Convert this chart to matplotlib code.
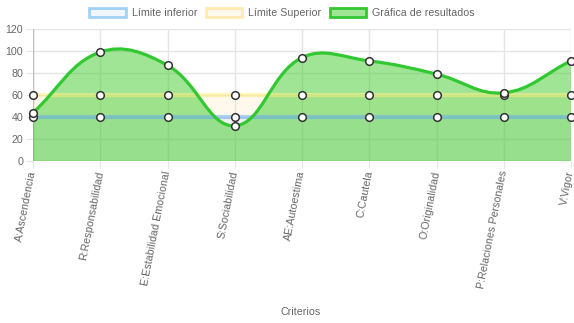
import numpy as np
import matplotlib
matplotlib.use("Agg")
import matplotlib.pyplot as plt
from matplotlib.path import Path
from matplotlib.patches import PathPatch, Patch

categories = ["A:Ascendencia", "R:Responsabilidad", "E:Estabilidad Emocional",
              "S:Sociabilidad", "AE:Autoestima", "C:Cautela", "O:Originalidad",
              "P:Relaciones Personales", "V:Vigor"]
limite_inferior = [40, 40, 40, 40, 40, 40, 40, 40, 40]
limite_superior = [60, 60, 60, 60, 60, 60, 60, 60, 60]
resultados = [44, 99, 87, 32, 94, 91, 79, 62, 91]
yticks = [0, 20, 40, 60, 80, 100, 120]

plt.rcParams['font.family'] = ['Liberation Sans', 'DejaVu Sans']
TXT = '#666666'
FS = 7.7

fig = plt.figure(figsize=(5.74, 3.23), dpi=100)
ax = fig.add_axes([33/574, 162/323, 538/574, 132/323])
n = len(categories)
x = np.arange(n)
ax.set_xlim(0, n - 1)
ax.set_ylim(0, 120)

for s in ax.spines.values():
    s.set_visible(False)
ax.set_axisbelow(True)
ax.set_yticks(yticks)
ax.set_xticks(x)
ax.grid(True, color='#e5e5e5', linewidth=1, alpha=1)
ax.tick_params(axis='both', length=5, color='#e5e5e5', labelcolor=TXT, labelsize=FS, pad=2)
ax.set_yticklabels([str(v) for v in yticks])
ax.set_xticklabels(categories, rotation=79, ha='right', va='center', rotation_mode='anchor')
ax.axhline(0, color='#c0c0c0', lw=1, zorder=1)
ax.axvline(0, color='#c0c0c0', lw=1, zorder=1)
fig.text(301/574, 1 - 312/323, "Criterios", color=TXT, fontsize=FS, ha='center', va='center')

blue_line = (100/255, 170/255, 250/255, 0.5)
blue_fill = (54/255, 162/255, 235/255, 0.08)
yel_line = (255/255, 240/255, 130/255, 0.55)
yel_fill = (255/255, 205/255, 86/255, 0.1)
ax.fill_between(x, limite_superior, 0, color=yel_fill, lw=0, zorder=2)
ax.fill_between(x, limite_inferior, 0, color=blue_fill, lw=0, zorder=2)

# Chart.js-style tension spline for results
fig.canvas.draw()
pts = ax.transData.transform(np.column_stack([x, resultados]))
t = 0.4
verts = [tuple(pts[0])]
codes = [Path.MOVETO]
ctrl = []
for i in range(n):
    prev = pts[i - 1] if i > 0 else pts[i]
    cur = pts[i]
    nxt = pts[i + 1] if i < n - 1 else pts[i]
    d01 = np.hypot(*(cur - prev))
    d12 = np.hypot(*(nxt - cur))
    tot = d01 + d12
    s01 = d01 / tot if tot else 0
    s12 = d12 / tot if tot else 0
    ctrl.append((cur - t * s01 * (nxt - prev), cur + t * s12 * (nxt - prev)))
for i in range(n - 1):
    verts += [tuple(ctrl[i][1]), tuple(ctrl[i + 1][0]), tuple(pts[i + 1])]
    codes += [Path.CURVE4] * 3
inv = ax.transData.inverted()
dverts = inv.transform(np.array(verts))
curve = Path(dverts, codes)
fill_verts = list(map(tuple, dverts)) + [(x[-1], 0), (x[0], 0), (x[0], resultados[0])]
fill_codes = codes + [Path.LINETO, Path.LINETO, Path.CLOSEPOLY]
green_line = (50/255, 200/255, 50/255)
green_fill = (65/255, 205/255, 45/255, 0.5)
ax.add_patch(PathPatch(Path(fill_verts, fill_codes), facecolor=green_fill, edgecolor='none', zorder=3))

ax.plot(x, limite_inferior, color=blue_line, lw=3, zorder=4, solid_capstyle='butt')
ax.plot(x, limite_superior, color=yel_line, lw=3, zorder=4, solid_capstyle='butt')
ax.add_patch(PathPatch(curve, facecolor='none', edgecolor=green_line, lw=2.3, zorder=5))

for series in (limite_inferior, limite_superior, resultados):
    ax.plot(x, series, ls='none', marker='o', ms=5.5, mfc='white', mec='#333333', mew=1.1,
            zorder=6, clip_on=False)

handles = [
    Patch(facecolor=(54/255, 162/255, 235/255, 0.08), edgecolor=(54/255, 162/255, 235/255, 0.45), lw=2),
    Patch(facecolor=(255/255, 205/255, 86/255, 0.1), edgecolor=(255/255, 215/255, 90/255, 0.45), lw=2),
    Patch(facecolor=green_fill, edgecolor=green_line, lw=2),
]
fig.legend(handles, ["Límite inferior", "Límite Superior", "Gráfica de resultados"],
           loc='center', bbox_to_anchor=(282/574, 1 - 13/323), ncol=3, frameon=False,
           fontsize=FS, labelcolor=TXT, handlelength=3.4, handleheight=1.0,
           handletextpad=0.55, columnspacing=0.8, borderpad=0)

fig.savefig("out.png", dpi=100)
